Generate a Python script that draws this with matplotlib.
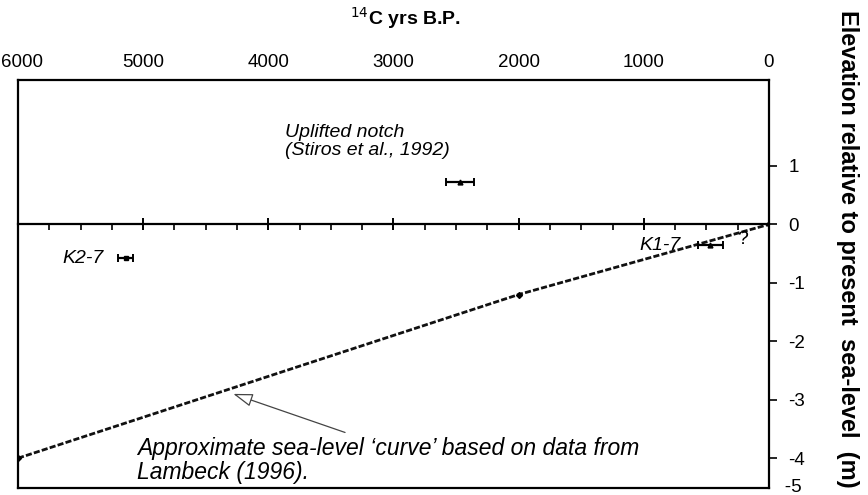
import matplotlib
matplotlib.use("Agg")
import matplotlib.pyplot as plt
import matplotlib.transforms as mtransforms
from matplotlib.lines import Line2D
from matplotlib.ticker import MultipleLocator

plt.rcParams['font.family'] = ['Liberation Sans', 'DejaVu Sans']

# ---- data ----
curve_age = [6000, 2000, 0]
curve_elev = [-4.0, -1.2, 0.0]

sample_names = ["Uplifted notch", "K2-7", "K1-7"]
sample_age = [2470, 5140, 470]
sample_age_err = [110, 60, 100]
sample_elev = [0.72, -0.58, -0.35]

x_ticks = [6000, 5000, 4000, 3000, 2000, 1000, 0]
y_ticks = [1, 0, -1, -2, -3, -4]

W, H = 868, 495
fig = plt.figure(figsize=(W / 100, H / 100), dpi=100)
ax = fig.add_axes([18 / W, 1 - 488 / H, (769 - 18) / W, (488 - 80) / H])

ax.set_xlim(6000, 0)
ax.set_ylim(-4.51, 2.47)

# sea-level curve
ax.plot(curve_age, curve_elev, color='#111111', lw=2.0, ls=(0, (2.2, 0.8)),
        marker='D', ms=3, mfc='black', mec='black', zorder=3)

# samples with error bars
markers = ['^', 's', '^']
for a, e, ae, m in zip(sample_age, sample_elev, sample_age_err, markers):
    ax.errorbar([a], [e], xerr=[ae], fmt=m, ms=3.5, color='black',
                ecolor='black', elinewidth=1.6, capsize=3, capthick=1.4, zorder=4)

# spines & axes
ax.spines['bottom'].set_position(('data', 0))
ax.spines['bottom'].set_linewidth(1.6)
for s in ['left', 'right', 'top']:
    ax.spines[s].set_linewidth(1.6)
ax.add_line(Line2D([0, 1], [0, 0], transform=ax.transAxes, color='black',
                   lw=1.6, clip_on=False))

ax.xaxis.set_ticks_position('bottom')
ax.set_xticks(x_ticks)
ax.set_xticklabels([str(t) for t in x_ticks])
ax.xaxis.set_minor_locator(MultipleLocator(250))
ax.tick_params(axis='x', which='major', direction='inout', length=9, width=1.4,
               labelbottom=False, labeltop=True, labelsize=13.5, pad=2)
ax.tick_params(axis='x', which='minor', direction='out', length=4, width=1.2)
ax.tick_params(axis='x', top=False)
# nudge the first label inside the figure
first = ax.xaxis.get_major_ticks()[0].label2
first.set_transform(first.get_transform() +
                    mtransforms.ScaledTranslation(4 / 100, 0, fig.dpi_scale_trans))

ax.yaxis.tick_right()
ax.set_yticks(y_ticks)
ax.set_yticklabels([str(t) for t in y_ticks])
ax.tick_params(axis='y', direction='out', length=6, width=1.2, labelsize=13.5, pad=8)
ax.text(1.0, 0.0, "   -5", transform=ax.transAxes, ha='left', va='center',
        fontsize=13.5)

# axis titles
fig.text(405 / W, 1 - 18 / H, r"$^{14}$C yrs B.P.", ha='center', va='center',
         fontsize=14, fontweight='bold')
fig.text(848 / W, 0.498, "Elevation relative to present  sea-level  (m)",
         rotation=-90, ha='center', va='center', fontsize=17, fontweight='bold')

# annotations
ax.text(3867, 1.42, "Uplifted notch\n(Stiros et al., 1992)", ha='left', va='center',
        fontsize=14, style='italic', linespacing=1.12)
ax.text(5648, -0.58, "K2-7", ha='left', va='center', fontsize=14, style='italic')
ax.text(705, -0.36, "K1-7", ha='right', va='center', fontsize=14, style='italic')
ax.text(250, -0.26, "?", ha='left', va='center', fontsize=14)
ax.text(5049, -4.04, "Approximate sea-level \u2018curve\u2019 based on data from\nLambeck (1996).",
        ha='left', va='center', fontsize=16.5, style='italic', linespacing=1.02)
ax.annotate('', xy=(4280, -2.9), xytext=(3387, -3.56),
            arrowprops=dict(arrowstyle='-|>,head_length=1.2,head_width=0.4',
                            fc='white', ec='#444444', lw=0.9, shrinkA=0, shrinkB=0))

fig.savefig("out.png", dpi=100)
